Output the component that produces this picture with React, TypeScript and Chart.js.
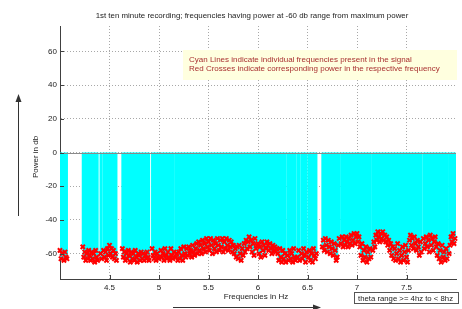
import React, { useEffect, useRef } from 'react';
import { Chart, registerables } from 'chart.js';

Chart.register(...registerables);

const titleText = '1st ten minute recording; frequencies having power at -60 db range from maximum power';
const xTitle = 'Frequencies in Hz';
const yTitle = 'Power in db';
const noteLines = [
  'Cyan Lines indicate individual frequencies present in the signal',
  'Red Crosses indicate corresponding power in the respective frequency',
];
const rangeNote = 'theta range >= 4hz to < 8hz';

const xTicks = [4.5, 5, 5.5, 6, 6.5, 7, 7.5];
const yTicks = [-60, -40, -20, 0, 20, 40, 60];

// frequency bins: start + index * step (Hz)
const freqStart = 4.0;
const freqStep = 0.01;

// power (dB) per frequency bin, null = frequency absent
const powerDb: (number | null)[] = [
  // 4.0
  -58, -63, -60, null, -64, -59, -62, -63, null, null,
  // 4.1
  null, null, null, null, null, null, null, null, null, null,
  // 4.2
  null, null, null, -56, -62, -59, -64, -60, -63, -58,
  // 4.3
  -61, -64, -59, -63, -60, -65, -58, -62, -64, null,
  // 4.4
  null, -60, -63, null, -58, -62, -59, -64, -57, -61,
  // 4.5
  -55, -60, -57, -62, -58, -63, -60, -64, null, null,
  // 4.6
  null, null, null, -57, -62, -59, -64, -60, -63, -58,
  // 4.7
  -61, -65, -59, -63, -60, -64, -58, -62, -65, -60,
  // 4.8
  -61, -64, -59, -63, -60, -64, -61, -63, -59, -62,
  // 4.9
  -64, null, null, -57, -61, -63, -59, -64, -60, -62,
  // 5.0
  -63, null, -58, -62, -60, -64, -57, -61, -63, -59,
  // 5.1
  -62, -64, -57, -61, -63, -59, null, -62, -60, -64,
  // 5.2
  -59, -63, -57, -61, -64, -56, -60, -62, -57, -61,
  // 5.3
  -56, -60, -58, -62, -55, -59, -61, -57, -54, -60,
  // 5.4
  -53, -58, -55, -60, -52, -57, -54, -59, -51, -56,
  // 5.5
  -53, -58, -51, -55, -60, -52, -57, -54, -59, -51,
  // 5.6
  -55, -58, -52, -56, -51, -59, -53, -57, -51, -55,
  // 5.7
  -58, -52, -56, -53, -59, -55, -60, -57, -62, -56,
  // 5.8
  -63, -55, -60, -64, -57, -61, -54, -59, -52, -57,
  // 5.9
  -53, -50, -56, -52, -59, -54, -61, -51, -57, -55,
  // 6.0
  -54, -60, -56, -62, -53, -58, -55, -61, -57, -53,
  // 6.1
  -55, -58, -54, -57, -60, -55, -58, -56, -59, -57,
  // 6.2
  -60, -64, -57, -62, -65, -58, -63, -60, -65, null,
  // 6.3
  -61, -64, -58, -63, -60, -65, -57, -62, -64, null,
  // 6.4
  -62, -58, -64, null, -60, -63, -57, -61, -65, -59,
  // 6.5
  null, -62, -58, -64, -60, -65, -57, -61, -63, -60,
  // 6.6
  null, null, null, null, null, -56, -52, -58, -51, -55,
  // 6.7
  -59, -52, -56, -60, -53, -57, -61, -54, -58, -64,
  // 6.8
  -62, -55, -51, null, -54, -50, -56, -52, -55, -50,
  // 6.9
  -53, -56, -51, -54, -49, -55, -52, -48, -54, -50,
  // 7.0
  -48, -53, -50, -56, -61, -54, -64, -58, -62, -56,
  // 7.1
  -65, -59, -63, -57, -62, null, -58, -53, -56, -49,
  // 7.2
  -52, -47, -50, -53, -48, -51, -47, -52, -49, -53,
  // 7.3
  -50, -55, -52, -58, -54, -61, -56, -63, -57, -64,
  // 7.4
  -60, -54, -63, -58, -65, -61, -56, -64, -59, -55,
  // 7.5
  -62, -65, -58, -52, -49, -55, -51, -57, -50, -54,
  // 7.6
  -58, -52, -56, -61, -53, -59, null, -51, -57, -54,
  // 7.7
  -50, -56, -52, -59, -49, -55, -51, -58, -53, -50,
  // 7.8
  -56, -61, -54, -63, -58, -65, -55, -62, -59, -64,
  // 7.9
  -57, -63, null, -60, -55, -50, -53, -48, -54, -51,
];

const W = 462;
const H = 309;
const FONT = '"Liberation Sans", Arial, Helvetica, sans-serif';
const AXIS = '#404040';

const decorPlugin = {
  id: 'decor',
  afterDatasetsDraw(chart: any) {
    const { ctx, chartArea: a, scales } = chart;
    const y0 = Math.round(scales.y.getPixelForValue(0)) + 0.5;
    ctx.save();
    ctx.strokeStyle = '#8a8a8a';
    ctx.lineWidth = 1;
    ctx.beginPath();
    ctx.moveTo(a.left, y0);
    ctx.lineTo(a.right, y0);
    ctx.stroke();
    ctx.restore();
  },
  afterDraw(chart: any) {
    const { ctx, chartArea: a, scales } = chart;
    const x = scales.x;
    const y = scales.y;
    ctx.save();
    // inward tick marks
    ctx.strokeStyle = AXIS;
    ctx.lineWidth = 1;
    ctx.beginPath();
    xTicks.forEach((v) => {
      const px = Math.round(x.getPixelForValue(v)) + 0.5;
      ctx.moveTo(px, a.bottom);
      ctx.lineTo(px, a.bottom - 4);
    });
    yTicks.forEach((v) => {
      const py = Math.round(y.getPixelForValue(v)) + 0.5;
      ctx.moveTo(a.left, py);
      ctx.lineTo(a.left + 4, py);
    });
    ctx.stroke();

    // title
    ctx.fillStyle = '#222';
    ctx.font = `7.9px ${FONT}`;
    ctx.textAlign = 'center';
    ctx.textBaseline = 'middle';
    ctx.fillText(titleText, 252, 16);

    // x axis title
    ctx.font = `8px ${FONT}`;
    ctx.fillText(xTitle, 256, 297);

    // y axis title
    ctx.save();
    ctx.translate(36, 157);
    ctx.rotate(-Math.PI / 2);
    ctx.fillText(yTitle, 0, 0);
    ctx.restore();

    // note box
    ctx.fillStyle = '#ffffdf';
    ctx.fillRect(183, 50, a.right - 183 + 1, 30);
    ctx.fillStyle = '#a83030';
    ctx.font = `8px ${FONT}`;
    ctx.textAlign = 'left';
    ctx.fillText(noteLines[0], 189, 60);
    ctx.fillText(noteLines[1], 189, 69);

    // theta range box
    ctx.fillStyle = '#ffffff';
    ctx.fillRect(354.5, 292.5, 104, 11);
    ctx.strokeStyle = '#555';
    ctx.strokeRect(354.5, 292.5, 104, 11);
    ctx.fillStyle = '#222';
    ctx.font = `7.75px ${FONT}`;
    ctx.fillText(rangeNote, 358, 298.5);

    // arrows
    ctx.strokeStyle = '#333';
    ctx.fillStyle = '#333';
    ctx.lineWidth = 1;
    ctx.beginPath();
    ctx.moveTo(18.5, 216);
    ctx.lineTo(18.5, 100);
    ctx.stroke();
    ctx.beginPath();
    ctx.moveTo(18.5, 94);
    ctx.lineTo(15.5, 102);
    ctx.lineTo(21.5, 102);
    ctx.closePath();
    ctx.fill();

    ctx.beginPath();
    ctx.moveTo(173, 307.5);
    ctx.lineTo(314, 307.5);
    ctx.stroke();
    ctx.beginPath();
    ctx.moveTo(321, 307.5);
    ctx.lineTo(313, 304.5);
    ctx.lineTo(313, 310.5);
    ctx.closePath();
    ctx.fill();
    ctx.restore();
  },
};

export default function App() {
  const ref = useRef<HTMLCanvasElement | null>(null);

  useEffect(() => {
    if (!ref.current) return;
    const stems: { x: number; y: [number, number] }[] = [];
    const marks: { x: number; y: number }[] = [];
    powerDb.forEach((v, i) => {
      if (v === null) return;
      const f = freqStart + i * freqStep;
      stems.push({ x: f, y: [v, 0] });
      marks.push({ x: f, y: v });
    });

    const chart = new Chart(ref.current, {
      type: 'bar',
      data: {
        datasets: [
          {
            type: 'scatter',
            data: marks,
            order: 0,
            showLine: false,
            pointStyle: 'crossRot',
            pointRadius: 3,
            pointBorderWidth: 2,
            pointBorderColor: '#ff0000',
            borderColor: '#ff0000',
            backgroundColor: '#ff0000',
            clip: false,
          } as any,
          {
            type: 'bar',
            data: stems as any,
            order: 1,
            backgroundColor: '#00ffff',
            borderWidth: 0,
            barThickness: 1.4,
            grouped: false,
          } as any,
        ],
      },
      options: {
        responsive: false,
        animation: false,
        devicePixelRatio: 1,
        layout: { padding: { left: 0, top: 26, right: 6, bottom: 0 } },
        plugins: {
          legend: { display: false },
          tooltip: { enabled: false },
          title: { display: false },
        },
        scales: {
          x: {
            type: 'linear',
            min: 4,
            max: 8,
            offset: false,
            position: 'bottom',
            afterBuildTicks: (s: any) => {
              s.ticks = xTicks.map((v) => ({ value: v }));
            },
            afterFit: (s: any) => {
              s.height = 30;
            },
            grid: { color: '#a8a8a8', lineWidth: 1, drawTicks: false, offset: false },
            border: { display: true, color: AXIS, width: 1, dash: [1, 2] },
            ticks: {
              padding: 4,
              color: '#222',
              font: { family: FONT, size: 8 },
              maxRotation: 0,
              autoSkip: false,
              callback: (v: any) => String(v),
            },
          },
          y: {
            type: 'linear',
            min: -75,
            max: 75,
            afterBuildTicks: (s: any) => {
              s.ticks = yTicks.map((v) => ({ value: v }));
            },
            afterFit: (s: any) => {
              s.width = 60;
            },
            grid: { color: '#a8a8a8', lineWidth: 1, drawTicks: false },
            border: { display: true, color: AXIS, width: 1, dash: [1, 2] },
            ticks: {
              padding: 3,
              color: '#222',
              font: { family: FONT, size: 8 },
              autoSkip: false,
              callback: (v: any) => String(v),
            },
          },
        },
      } as any,
      plugins: [decorPlugin],
    });
    return () => chart.destroy();
  }, []);

  return (
    <div style={{ position: 'absolute', left: 0, top: 0, width: W, height: H, background: '#fff' }}>
      <canvas ref={ref} width={W} height={H} style={{ width: W, height: H, display: 'block' }} />
    </div>
  );
}
